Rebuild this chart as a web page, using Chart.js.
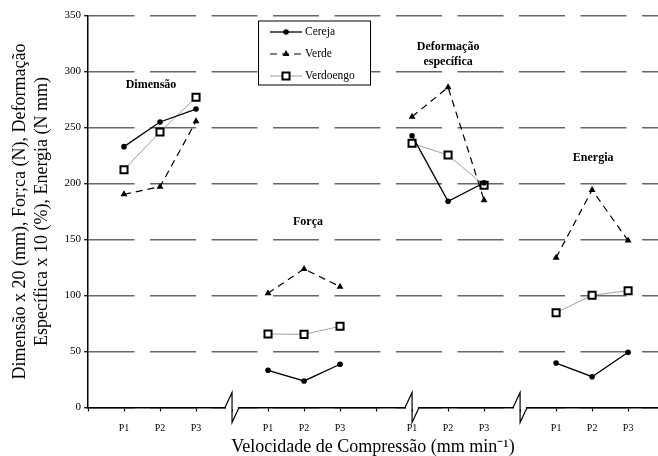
<!DOCTYPE html>
<html>
<head>
<meta charset="utf-8">
<script src="https://cdn.jsdelivr.net/npm/chart.js@4"></script>
<style>
  html, body { margin: 0; padding: 0; background: #fff; }
</style>
</head>
<body>
<canvas id="chart" width="658" height="456"></canvas>
<script>
// x positions (P1..P3 of each group) and tick labels
const tickLabels = ["", "P1", "P2", "P3", "", "P1", "P2", "P3", "", "P1", "P2", "P3", "", "P1", "P2", "P3"];
const groupX = [[1, 2, 3], [5, 6, 7], [9, 10, 11], [13, 14, 15]];
const breakX = [4, 9, 12];

// values (Dimensão, Força, Deformação específica, Energia)
const cereja    = [232.9, 254.9, 266.5,  33.2,  23.7,  38.6, 242.7, 184.1, 200.7,  39.7,  27.5,  49.3];
const verde     = [190.4, 197.1, 255.5, 102.0, 123.7, 107.9, 259.6, 285.9, 185.0, 133.8, 194.2, 149.0];
const verdoengo = [212.3, 246.0, 277.0,  65.6,  65.3,  72.5, 235.9, 225.4, 198.4,  84.6, 100.2, 104.3];

// group names and where they are written (data coords)
const groupNames = [["Dimensão"], ["Força"], ["Deformação", "específica"], ["Energia"]];
const groupLabelPos = [[1.75, 288], [6.11, 165.6], [10.0, 321.9], [14.03, 222.8]];

const SERIF = "'Liberation Serif', 'Times New Roman', serif";

// build point list with a null between groups so lines break
function toPoints(values) {
  const pts = [];
  groupX.forEach((xs, g) => {
    xs.forEach((x, i) => pts.push({ x: x, y: values[g * 3 + i] }));
    if (g < groupX.length - 1) pts.push({ x: xs[2] + 1, y: null });
  });
  return pts;
}

const extras = {
  id: "extras",
  afterDraw(chart) {
    const ctx = chart.ctx;
    const xs = chart.scales.x, ys = chart.scales.y;
    const y0 = ys.getPixelForValue(0);

    // axis break marks
    ctx.save();
    breakX.forEach(v => {
      const x = xs.getPixelForValue(v);
      ctx.fillStyle = "#fff";
      ctx.fillRect(x - 6, y0 - 2, 12, 4);
      ctx.strokeStyle = "#000";
      ctx.lineWidth = 1.2;
      ctx.beginPath();
      ctx.moveTo(x - 7, y0);
      ctx.lineTo(x, y0 - 15);
      ctx.lineTo(x, y0 + 15);
      ctx.lineTo(x + 7, y0);
      ctx.stroke();
    });
    ctx.restore();

    // group labels
    ctx.save();
    ctx.font = "bold 12px " + SERIF;
    ctx.fillStyle = "#000";
    ctx.textAlign = "center";
    ctx.textBaseline = "middle";
    groupNames.forEach((lines, i) => {
      const px = xs.getPixelForValue(groupLabelPos[i][0]);
      const py = ys.getPixelForValue(groupLabelPos[i][1]);
      lines.forEach((t, k) => ctx.fillText(t, px, py + k * 15));
    });
    ctx.restore();

    // legend box
    const ca = chart.chartArea;
    const bx = ca.left + 170, by = ca.top + 5, bw = 112, bh = 64;
    ctx.save();
    ctx.fillStyle = "#fff";
    ctx.fillRect(bx, by, bw, bh);
    ctx.strokeStyle = "#000";
    ctx.lineWidth = 1;
    ctx.strokeRect(bx + 0.5, by + 0.5, bw, bh);
    ctx.font = "11.5px " + SERIF;
    ctx.textBaseline = "middle";
    chart.data.datasets.forEach((ds, i) => {
      const ry = by + 11.5 + i * 22;
      const lx = bx + 12, rx = bx + 44, mx = bx + 28;
      ctx.save();
      ctx.strokeStyle = ds.borderColor;
      ctx.lineWidth = ds.borderWidth;
      ctx.setLineDash(ds.borderDash || []);
      ctx.beginPath();
      ctx.moveTo(lx, ry);
      ctx.lineTo(rx, ry);
      ctx.stroke();
      ctx.restore();
      ctx.save();
      ctx.fillStyle = ds.pointBackgroundColor;
      ctx.strokeStyle = ds.pointBorderColor;
      ctx.lineWidth = ds.pointBorderWidth;
      Chart.helpers.drawPoint(ctx, { pointStyle: ds.pointStyle, radius: ds.pointRadius, borderWidth: ds.pointBorderWidth, rotation: 0 }, mx, ry);
      ctx.restore();
      ctx.fillStyle = "#000";
      ctx.fillText(ds.label, rx + 3, ry);
    });
    ctx.restore();
  }
};

new Chart(document.getElementById("chart"), {
  type: "line",
  data: {
    datasets: [
      {
        label: "Cereja",
        data: toPoints(cereja),
        borderColor: "#000",
        borderWidth: 1.3,
        pointStyle: "circle",
        pointRadius: 2.8,
        pointBackgroundColor: "#000",
        pointBorderColor: "#000",
        pointBorderWidth: 0
      },
      {
        label: "Verde",
        data: toPoints(verde),
        borderColor: "#000",
        borderWidth: 1.2,
        borderDash: [7, 5],
        pointStyle: "triangle",
        pointRadius: 4,
        pointBackgroundColor: "#000",
        pointBorderColor: "#000",
        pointBorderWidth: 0
      },
      {
        label: "Verdoengo",
        data: toPoints(verdoengo),
        borderColor: "#a0a0a0",
        borderWidth: 1,
        pointStyle: "rect",
        pointRadius: 5,
        pointBackgroundColor: "#fff",
        pointBorderColor: "#000",
        pointBorderWidth: 2
      }
    ]
  },
  options: {
    responsive: false,
    animation: false,
    spanGaps: false,
    layout: { autoPadding: false, padding: { top: 15.5, right: 0, left: 0, bottom: 0 } },
    plugins: {
      legend: { display: false },
      tooltip: { enabled: false }
    },
    scales: {
      x: {
        type: "linear",
        min: 0,
        max: 15.83,
        afterBuildTicks: s => { s.ticks = tickLabels.map((l, i) => ({ value: i })); },
        afterFit: s => { s.height = 48.5; },
        grid: { drawOnChartArea: false, drawTicks: true, tickLength: 4, tickColor: "#000", tickWidth: 1.2 },
        border: { display: true, color: "#000", width: 1.5 },
        ticks: {
          autoSkip: false,
          maxRotation: 0,
          padding: 11,
          color: "#000",
          font: { family: SERIF, size: 10 },
          callback: v => tickLabels[v] ?? ""
        },
        title: {
          display: true,
          text: "Velocidade de Compressão (mm min⁻¹)",
          color: "#000",
          font: { family: SERIF, size: 18, lineHeight: 1 },
          padding: { top: 0, bottom: 0 }
        }
      },
      y: {
        min: 0,
        max: 350,
        afterFit: s => { s.width = 88; },
        ticks: {
          stepSize: 50,
          padding: 3,
          color: "#000",
          font: { family: SERIF, size: 11 }
        },
        grid: { color: "#666", lineWidth: 1.5, tickLength: 4, tickColor: "#000", tickWidth: 1.2 },
        border: { display: true, color: "#000", width: 1.5, dash: [46, 15.5] },
        title: {
          display: true,
          text: ["Dimensão x 20 (mm), For;ca (N), Deformação", "Específica x 10 (%), Energia (N mm)"],
          color: "#000",
          font: { family: SERIF, size: 18, lineHeight: 1.22 },
          padding: { top: 9, bottom: 0 }
        }
      }
    }
  },
  plugins: [extras]
});
</script>
</body>
</html>
